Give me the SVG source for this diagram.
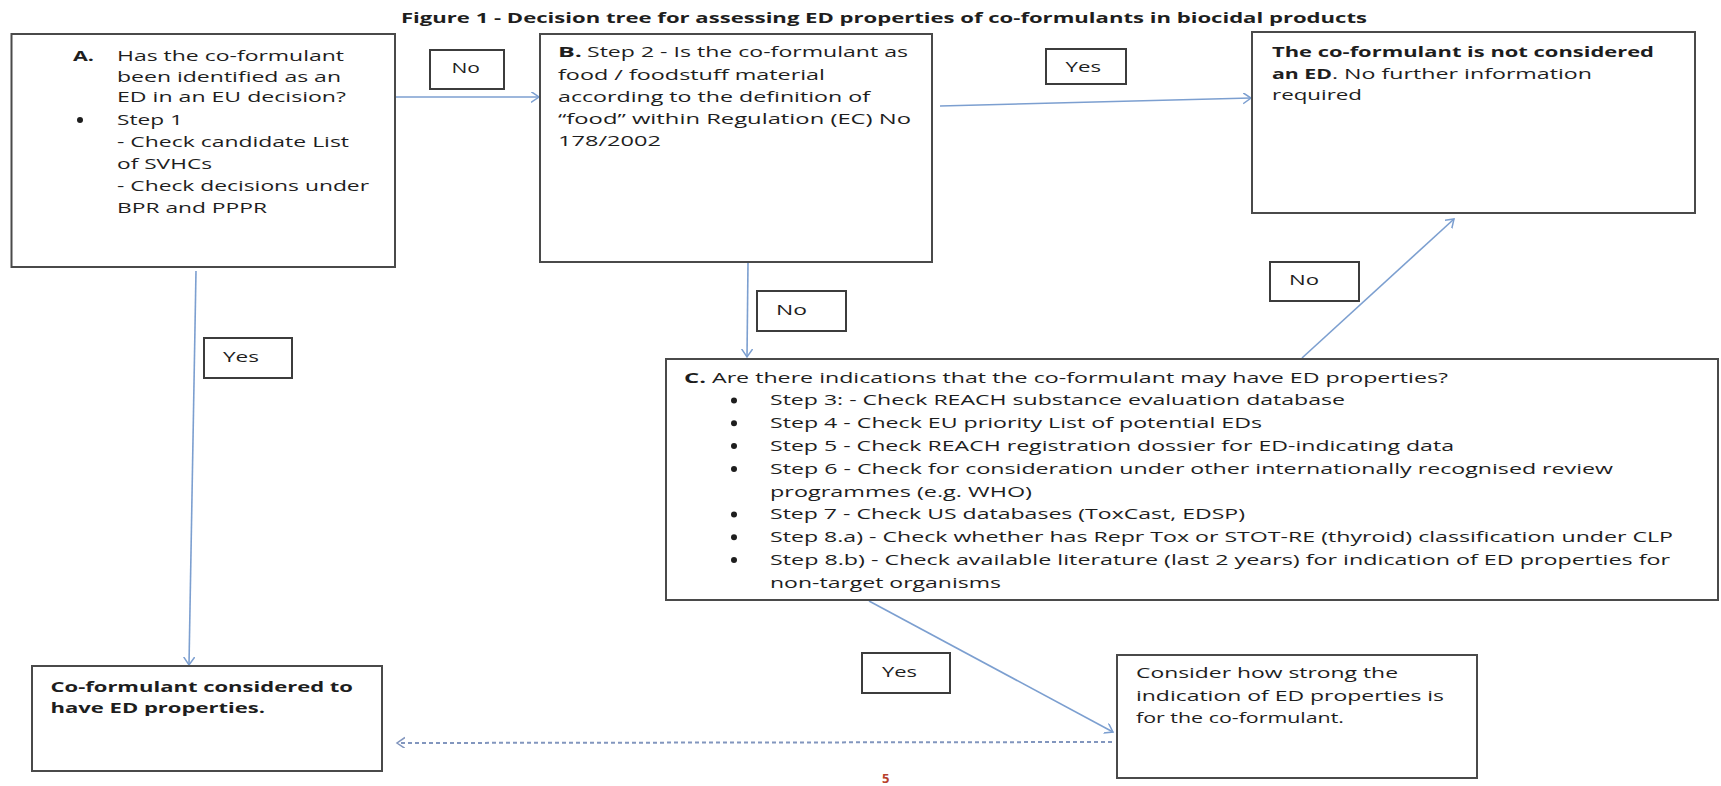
<svg xmlns="http://www.w3.org/2000/svg" width="1721" height="786" viewBox="0 0 1721 786">
<style>
  text { font-family: "Open Sans", "Liberation Sans", sans-serif; font-size: 15px; fill: #1e1e1e; }
  .b { font-weight: bold; }
  .title { font-weight: bold; font-size: 14px; }
  .box { fill: #fff; stroke: #4a4a4a; stroke-width: 2; }
  .lbl { fill: #fff; stroke: #3c3c3c; stroke-width: 2; }
  .con { stroke: #7c9fd0; stroke-width: 1.6; fill: none; }
  .dash { stroke: #8296be; stroke-width: 2; fill: none; stroke-dasharray: 4 3; }
  .pg { fill: #b8412c; font-size: 13px; font-weight: bold; }
</style>
<defs>
  <marker id="ah" markerUnits="userSpaceOnUse" markerWidth="10" markerHeight="12" refX="8" refY="5.5" orient="auto">
    <path d="M0,0 L8,5.5 L0,11" fill="none" stroke="#7c9fd0" stroke-width="1.5"/>
  </marker>
  <marker id="ahd" markerUnits="userSpaceOnUse" markerWidth="10" markerHeight="12" refX="8" refY="5.5" orient="auto">
    <path d="M0,0 L8,5.5 L0,11" fill="none" stroke="#8296be" stroke-width="1.5"/>
  </marker>
</defs>
<rect width="1721" height="786" fill="#fff"/>

<text class="title" x="401" y="23" textLength="966" lengthAdjust="spacingAndGlyphs">Figure 1 - Decision tree for assessing ED properties of co-formulants in biocidal products</text>

<g id="connectors">
  <line class="con" x1="395" y1="97" x2="539" y2="97" marker-end="url(#ah)"/>
  <line class="con" x1="940" y1="106" x2="1251" y2="98" marker-end="url(#ah)"/>
  <line class="con" x1="748" y1="263" x2="747" y2="357" marker-end="url(#ah)"/>
  <line class="con" x1="1302" y1="358" x2="1454" y2="219" marker-end="url(#ah)"/>
  <line class="con" x1="196" y1="271" x2="189" y2="665" marker-end="url(#ah)"/>
  <line class="con" x1="869" y1="601" x2="1113" y2="732" marker-end="url(#ah)"/>
  <line class="dash" x1="1112" y1="742" x2="397" y2="743" marker-end="url(#ahd)"/>
</g>

<g id="nodeA">
  <rect class="box" x="11.5" y="34" width="383.5" height="233"/>
  <text class="b" x="73" y="61" textLength="21" lengthAdjust="spacingAndGlyphs">A.</text>
  <text x="117" y="61" textLength="227" lengthAdjust="spacingAndGlyphs">Has the co-formulant</text>
  <text x="117" y="81.5" textLength="224" lengthAdjust="spacingAndGlyphs">been identified as an</text>
  <text x="117" y="102" textLength="229" lengthAdjust="spacingAndGlyphs">ED in an EU decision?</text>
  <circle cx="80" cy="120" r="3" fill="#1e1e1e"/>
  <text x="117" y="125" textLength="66" lengthAdjust="spacingAndGlyphs">Step 1</text>
  <text x="117" y="147" textLength="232" lengthAdjust="spacingAndGlyphs">- Check candidate List</text>
  <text x="117" y="169" textLength="95" lengthAdjust="spacingAndGlyphs">of SVHCs</text>
  <text x="117" y="191" textLength="252" lengthAdjust="spacingAndGlyphs">- Check decisions under</text>
  <text x="117" y="213" textLength="150" lengthAdjust="spacingAndGlyphs">BPR and PPPR</text>
</g>

<g id="nodeB">
  <rect class="box" x="540" y="34" width="392" height="228"/>
  <text class="b" x="558" y="57" textLength="24" lengthAdjust="spacingAndGlyphs">B.</text>
  <text x="587" y="57" textLength="321" lengthAdjust="spacingAndGlyphs">Step 2 - Is the co-formulant as</text>
  <text x="558" y="79.5" textLength="267" lengthAdjust="spacingAndGlyphs">food / foodstuff material</text>
  <text x="558" y="102" textLength="312" lengthAdjust="spacingAndGlyphs">according to the definition of</text>
  <text x="558" y="124" textLength="353" lengthAdjust="spacingAndGlyphs">“food” within Regulation (EC) No</text>
  <text x="558" y="146" textLength="103" lengthAdjust="spacingAndGlyphs">178/2002</text>
</g>

<g id="nodeNotED">
  <rect class="box" x="1252" y="32" width="443" height="181"/>
  <text class="b" x="1272" y="57" textLength="382" lengthAdjust="spacingAndGlyphs">The co-formulant is not considered</text>
  <text class="b" x="1272" y="79" textLength="60" lengthAdjust="spacingAndGlyphs">an ED</text>
  <text x="1332" y="79" textLength="260" lengthAdjust="spacingAndGlyphs">. No further information</text>
  <text x="1272" y="100" textLength="90" lengthAdjust="spacingAndGlyphs">required</text>
</g>

<g id="nodeC">
  <rect class="box" x="666" y="359" width="1052" height="241"/>
  <text class="b" x="684" y="382.5" textLength="22" lengthAdjust="spacingAndGlyphs">C.</text>
  <text x="712" y="382.5" textLength="736" lengthAdjust="spacingAndGlyphs">Are there indications that the co-formulant may have ED properties?</text>
  <g fill="#1e1e1e">
    <circle cx="734" cy="400.5" r="3"/>
    <circle cx="734" cy="423.3" r="3"/>
    <circle cx="734" cy="446.1" r="3"/>
    <circle cx="734" cy="468.9" r="3"/>
    <circle cx="734" cy="514.5" r="3"/>
    <circle cx="734" cy="537.3" r="3"/>
    <circle cx="734" cy="560.1" r="3"/>
  </g>
  <text x="770" y="405.3" textLength="575" lengthAdjust="spacingAndGlyphs">Step 3: - Check REACH substance evaluation database</text>
  <text x="770" y="428.1" textLength="492" lengthAdjust="spacingAndGlyphs">Step 4 - Check EU priority List of potential EDs</text>
  <text x="770" y="450.9" textLength="684" lengthAdjust="spacingAndGlyphs">Step 5 - Check REACH registration dossier for ED-indicating data</text>
  <text x="770" y="473.7" textLength="843" lengthAdjust="spacingAndGlyphs">Step 6 - Check for consideration under other internationally recognised review</text>
  <text x="770" y="496.5" textLength="262" lengthAdjust="spacingAndGlyphs">programmes (e.g. WHO)</text>
  <text x="770" y="519.3" textLength="475" lengthAdjust="spacingAndGlyphs">Step 7 - Check US databases (ToxCast, EDSP)</text>
  <text x="770" y="542.1" textLength="903" lengthAdjust="spacingAndGlyphs">Step 8.a) - Check whether has Repr Tox or STOT-RE (thyroid) classification under CLP</text>
  <text x="770" y="564.9" textLength="900" lengthAdjust="spacingAndGlyphs">Step 8.b) - Check available literature (last 2 years) for indication of ED properties for</text>
  <text x="770" y="587.7" textLength="231" lengthAdjust="spacingAndGlyphs">non-target organisms</text>
</g>

<g id="nodeConsider">
  <rect class="box" x="1117" y="655" width="360" height="123"/>
  <text x="1136" y="678" textLength="262" lengthAdjust="spacingAndGlyphs">Consider how strong the</text>
  <text x="1136" y="701" textLength="308" lengthAdjust="spacingAndGlyphs">indication of ED properties is</text>
  <text x="1136" y="723" textLength="208" lengthAdjust="spacingAndGlyphs">for the co-formulant.</text>
</g>

<g id="nodeCoED">
  <rect class="box" x="32" y="666" width="350" height="105"/>
  <text class="b" x="50.5" y="692" textLength="302.5" lengthAdjust="spacingAndGlyphs">Co-formulant considered to</text>
  <text class="b" x="50.5" y="713" textLength="214.5" lengthAdjust="spacingAndGlyphs">have ED properties.</text>
</g>

<g id="label-no-AB">
  <rect class="lbl" x="430" y="50" width="74" height="39"/>
  <text x="451.5" y="73" textLength="28.5" lengthAdjust="spacingAndGlyphs">No</text>
</g>
<g id="label-yes-B">
  <rect class="lbl" x="1046" y="49" width="80" height="35"/>
  <text x="1065.5" y="72" textLength="35.5" lengthAdjust="spacingAndGlyphs">Yes</text>
</g>
<g id="label-yes-A">
  <rect class="lbl" x="204" y="338" width="88" height="40"/>
  <text x="223" y="362" textLength="36" lengthAdjust="spacingAndGlyphs">Yes</text>
</g>
<g id="label-no-BC">
  <rect class="lbl" x="757" y="291" width="89" height="40"/>
  <text x="776" y="315" textLength="31" lengthAdjust="spacingAndGlyphs">No</text>
</g>
<g id="label-no-C">
  <rect class="lbl" x="1270" y="262" width="89" height="39"/>
  <text x="1289" y="285" textLength="30" lengthAdjust="spacingAndGlyphs">No</text>
</g>
<g id="label-yes-C">
  <rect class="lbl" x="862" y="653" width="88" height="40"/>
  <text x="882" y="677" textLength="35" lengthAdjust="spacingAndGlyphs">Yes</text>
</g>

<text class="pg" x="882" y="783">5</text>
</svg>
